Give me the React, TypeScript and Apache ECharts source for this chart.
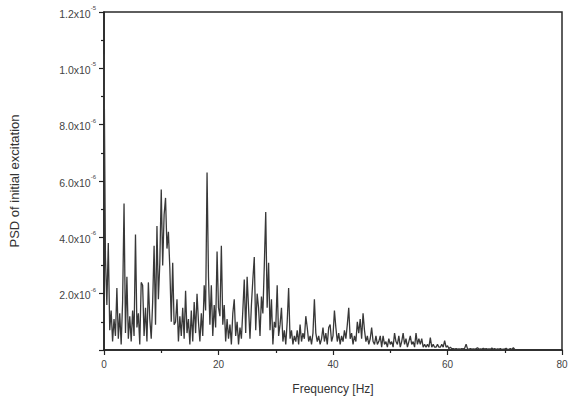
import React, { useEffect, useRef } from "react";
import * as echarts from "echarts";

// PSD values in units of 1e-6, sampled every 0.25 Hz starting at 0 Hz
const FREQ_STEP = 0.25;
const psd0to10 = [
  10.5, 3.3, 1.6, 3.8, 0.7, 1.4, 0.3, 1.1, 0.5, 2.2,
  0.4, 1.3, 0.2, 1.7, 5.2, 0.6, 2.6, 0.4, 1.2, 0.3,
  1.4, 0.5, 4.1, 0.8, 1.3, 0.2, 2.4, 2.3, 0.5, 1.5,
  0.3, 2.4, 1.1, 0.4, 1.7, 3.7, 0.9, 4.4, 1.8, 3.1,
];
const psd10to20 = [
  5.7, 3.0, 4.8, 5.4, 3.6, 4.2, 2.9, 1.0, 3.1, 0.9,
  1.0, 1.8, 0.3, 1.2, 0.5, 1.5, 0.4, 2.1, 0.6, 1.1,
  0.2, 1.4, 0.3, 1.7, 0.6, 2.0, 1.0, 0.3, 1.3, 0.5,
  2.3, 1.4, 6.3, 2.6, 0.9, 2.3, 0.5, 1.6, 0.8, 3.5,
];
const psd20to30 = [
  1.5, 1.2, 3.7, 0.9, 1.6, 0.3, 1.1, 0.4, 0.9, 0.2,
  1.3, 1.8, 0.5, 1.0, 0.2, 0.8, 0.4, 1.4, 2.5, 0.6,
  2.6, 1.5, 0.4, 1.6, 2.5, 3.3, 0.7, 2.0, 1.5, 0.5,
  1.9, 1.3, 3.0, 4.9, 1.5, 3.1, 0.7, 1.8, 0.2, 1.0,
];
const psd30to40 = [
  0.8, 2.3, 0.5, 0.9, 1.5, 0.3, 0.7, 0.2, 1.0, 2.2,
  0.4, 0.7, 0.2, 0.5, 0.3, 0.7, 0.2, 0.9, 0.3, 0.6,
  0.4, 1.2, 0.8, 0.3, 0.5, 0.2, 0.6, 1.8, 0.6, 0.3,
  0.5, 0.2, 0.4, 0.8, 0.3, 0.6, 0.2, 0.8, 0.9, 0.3,
];
const psd40to50 = [
  0.5, 1.4, 0.8, 0.3, 0.6, 0.2, 0.5, 0.3, 0.7, 0.4,
  0.9, 1.5, 0.4, 0.6, 0.2, 0.5, 0.3, 1.0, 0.6, 1.1,
  0.4, 1.3, 0.7, 0.3, 0.5, 0.2, 0.4, 0.8, 0.3, 0.2,
  0.5, 0.2, 0.3, 0.5, 0.1, 0.5, 0.2, 0.3, 0.1, 0.4,
];
const psd50to60 = [
  0.2, 0.3, 0.1, 0.6, 0.3, 0.2, 0.5, 0.1, 0.3, 0.6,
  0.2, 0.4, 0.1, 0.3, 0.5, 0.2, 0.3, 0.1, 0.6, 0.2,
  0.4, 0.2, 0.4, 0.1, 0.2, 0.1, 0.2, 0.1, 0.44, 0.1,
  0.2, 0.1, 0.1, 0.2, 0.1, 0.1, 0.2, 0.1, 0.33, 0.1,
];
const psd60to72 = [
  0.15, 0.05, 0.1, 0.05, 0.05, 0.03, 0.05, 0.03, 0.04, 0.03,
  0.05, 0.04, 0.06, 0.21, 0.04, 0.03, 0.05, 0.03, 0.04, 0.03,
  0.05, 0.08, 0.03, 0.04, 0.03, 0.06, 0.03, 0.05, 0.03, 0.04,
  0.03, 0.07, 0.03, 0.05, 0.02, 0.04, 0.03, 0.05, 0.02, 0.03,
  0.04, 0.06, 0.02, 0.03, 0.05, 0.02, 0.08, 0.02,
];

const xTicks = [0, 20, 40, 60, 80];
const yTickLabels: Record<number, string> = {
  2: "{b|2.0x10}{s|-6}",
  4: "{b|4.0x10}{s|-6}",
  6: "{b|6.0x10}{s|-6}",
  8: "{b|8.0x10}{s|-6}",
  10: "{b|1.0x10}{s|-5}",
  12: "{b|1.2x10}{s|-5}",
};

export default function App() {
  const ref = useRef<HTMLDivElement>(null);
  useEffect(() => {
    if (!ref.current) return;
    const chart = echarts.init(ref.current, null, { renderer: "svg" });
    const values = [
      ...psd0to10,
      ...psd10to20,
      ...psd20to30,
      ...psd30to40,
      ...psd40to50,
      ...psd50to60,
      ...psd60to72,
    ];
    const data = values.map((v, i) => [i * FREQ_STEP, v]);
    const font = "'Liberation Sans', Arial, sans-serif";
    chart.setOption({
      animation: false,
      backgroundColor: "#ffffff",
      grid: {
        left: 104,
        right: 9,
        top: 12,
        bottom: 49,
        containLabel: false,
        outerBoundsMode: "none",
        show: true,
        borderColor: "#2a2a2a",
        borderWidth: 1.5,
      },
      xAxis: {
        type: "value",
        min: xTicks[0],
        max: xTicks[xTicks.length - 1],
        interval: 20,
        name: "Frequency [Hz]",
        nameLocation: "middle",
        nameGap: 33,
        nameTextStyle: { fontFamily: font, fontSize: 12, color: "#333" },
        axisLine: { show: true, lineStyle: { color: "#222", width: 1.5 } },
        axisTick: { show: true, inside: false, length: 5, lineStyle: { color: "#222", width: 1.2 } },
        minorTick: { show: true, splitNumber: 2, length: 3, lineStyle: { color: "#222", width: 1.2 } },
        splitLine: { show: false },
        axisLabel: { fontFamily: font, fontSize: 10, color: "#444", margin: 9 },
      },
      yAxis: {
        type: "value",
        min: 0,
        max: 12,
        interval: 2,
        name: "PSD of initial excitation",
        nameLocation: "middle",
        nameGap: 83,
        nameRotate: 90,
        nameTextStyle: { fontFamily: font, fontSize: 13, color: "#333" },
        axisLine: { show: true, lineStyle: { color: "#222", width: 1.5 } },
        axisTick: { show: true, inside: false, length: 5, lineStyle: { color: "#222", width: 1.2 } },
        minorTick: { show: true, splitNumber: 2, length: 3, lineStyle: { color: "#222", width: 1.2 } },
        splitLine: { show: false },
        axisLabel: {
          margin: 8,
          formatter: (v: number) => yTickLabels[v] || "",
          rich: {
            b: { fontFamily: font, fontSize: 10.5, color: "#444", verticalAlign: "bottom", lineHeight: 14 },
            s: { fontFamily: font, fontSize: 6, color: "#444", verticalAlign: "top", lineHeight: 14 },
          },
        },
      },
      series: [
        {
          type: "line",
          data,
          showSymbol: false,
          symbol: "none",
          lineStyle: { color: "#383838", width: 1.3 },
        },
      ],
    });
    return () => chart.dispose();
  }, []);
  return <div ref={ref} style={{ width: 571, height: 399, position: "absolute", left: 0, top: 0 }} />;
}
